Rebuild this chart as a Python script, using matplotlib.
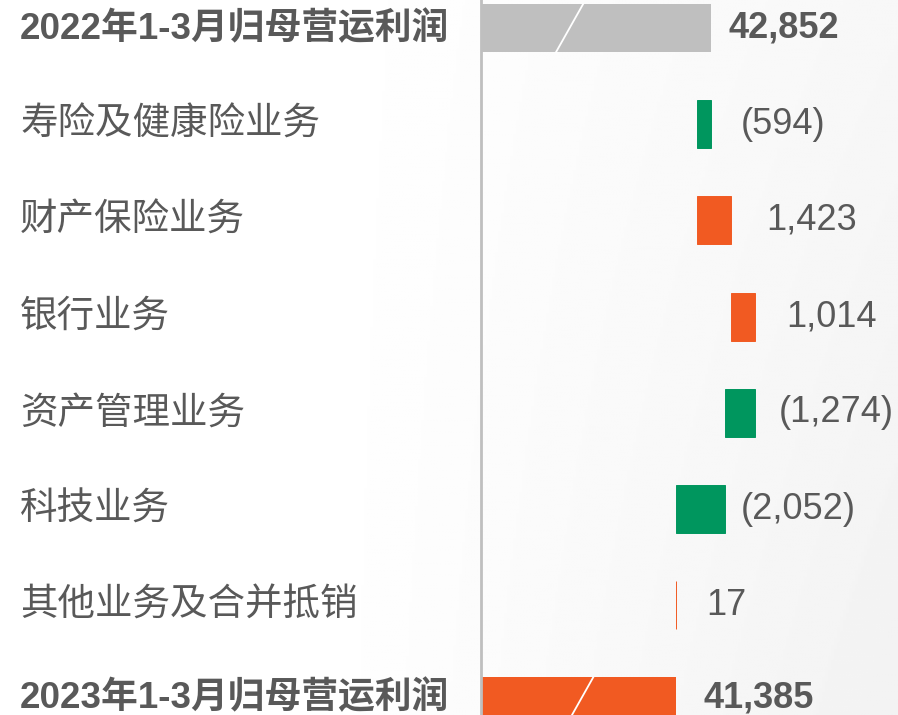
import numpy as np
import matplotlib
matplotlib.use("Agg")
import matplotlib.pyplot as plt
import matplotlib.transforms as mtransforms

# data
categories = ["2022年1-3月归母营运利润", "寿险及健康险业务", "财产保险业务", "银行业务",
              "资产管理业务", "科技业务", "其他业务及合并抵销", "2023年1-3月归母营运利润"]
start_total = 42852
changes = [-594, 1423, 1014, -1274, -2052, 17]
end_total = 41385

# label gap after bar end, in pixels
label_pad = [17, 29, 35, 31, 23, 16, 30, 27]

grey = "#bfbfbf"
green = "#00965e"
orange = "#f15a22"
text_col = "#595959"
xmin, xmax = 33200, 50672

fig = plt.figure(figsize=(8.98, 7.15), dpi=100)

# soft background shading like the slide
bg = fig.add_axes([0, 0, 1, 1], zorder=-1)
gx = np.linspace(0, 1, 300)
gy = np.linspace(0, 1, 200)
GX, GY = np.meshgrid(gx, gy)
shade = 1.0 - 0.05 * np.clip((GX - 0.35) / 0.65, 0, 1) * (0.6 + 0.4 * GY)
bg.imshow(shade, cmap="gray", vmin=0, vmax=1, aspect="auto", extent=[0, 1, 0, 1], origin="upper")
bg.axis("off")

ax = fig.add_axes([481 / 898, -0.0483, 417 / 898, 1.0764])
ax.patch.set_alpha(0)

h = 0.5
ys = np.arange(len(categories))

# first total
ax.barh(0, start_total - xmin, left=xmin, height=h, color=grey)
ends = [start_total]
cum = start_total
for i, d in enumerate(changes, start=1):
    new = cum + d
    col = orange if d > 0 else green
    ax.barh(i, abs(d), left=min(cum, new), height=h, color=col, edgecolor=col, linewidth=0.7)
    ends.append(max(cum, new))
    cum = new
ax.barh(len(categories) - 1, end_total - xmin, left=xmin, height=h, color=orange)
ends.append(end_total)

ax.set_xlim(xmin, xmax)
ax.set_ylim(len(categories) - 0.5, -0.5)
ax.set_xticks([])
ax.set_yticks([])
for s in ["top", "right", "bottom"]:
    ax.spines[s].set_visible(False)
ax.spines["left"].set_color(grey)
ax.spines["left"].set_linewidth(2)

# axis break slashes
bt = mtransforms.blended_transform_factory(ax.transAxes, ax.transData)
ax.plot([0.18, 0.245], [0.25, -0.25], color="white", lw=1.3, transform=bt)
ax.plot([0.204, 0.269], [7.25, 6.75], color="white", lw=1.3, transform=bt)

# value labels
vals = [start_total] + changes + [end_total]
last = len(vals) - 1
for i, v in enumerate(vals):
    if v < 0:
        s = "({:,})".format(-v)
    else:
        s = "{:,}".format(v)
    bold = i in (0, last)
    dy = 3 if i == last else 0
    off = mtransforms.offset_copy(ax.transData, fig=fig, x=label_pad[i] * 0.72, y=dy * 0.72, units="points")
    ax.text(ends[i], ys[i], s, transform=off, ha="left", va="center",
            fontsize=26, color=text_col, fontweight="bold" if bold else "normal",
            family=["Liberation Sans", "DejaVu Sans"])

# category labels
for i, c in enumerate(categories):
    bold = i in (0, last)
    dy = 3 if i == last else (-1 if i == 0 else 0)
    lt = mtransforms.offset_copy(mtransforms.blended_transform_factory(fig.transFigure, ax.transData),
                                 fig=fig, x=0, y=dy * 0.72, units="points")
    fig.text(20 / 898, ys[i], c, transform=lt, ha="left", va="center",
             fontsize=27 if not bold else 26.5, color=text_col,
             fontweight="bold" if bold else "normal",
             family=["Liberation Sans", "Noto Sans CJK SC", "DejaVu Sans"] if bold
             else ["Noto Sans CJK SC", "DejaVu Sans"])

fig.savefig("out.png", dpi=100)
